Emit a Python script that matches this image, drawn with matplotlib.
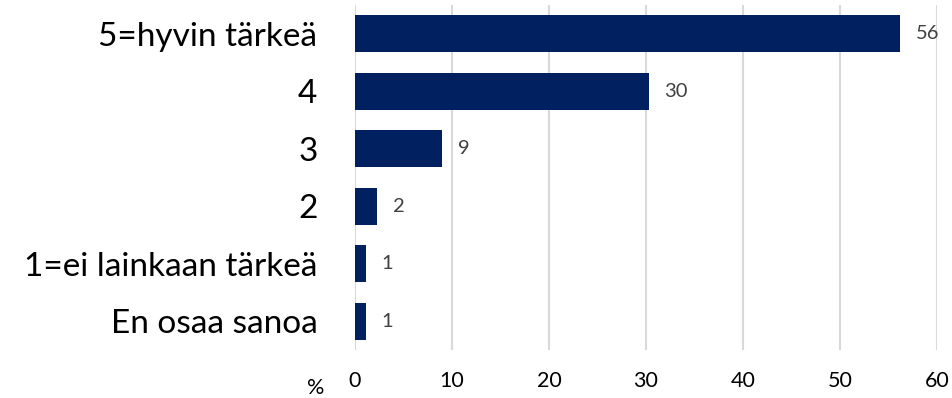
import matplotlib
matplotlib.use("Agg")
import matplotlib.pyplot as plt

categories = ["5=hyvin tärkeä", "4", "3", "2", "1=ei lainkaan tärkeä", "En osaa sanoa"]
values = [56.2, 30.3, 9.0, 2.3, 1.1, 1.1]
value_labels = ["56", "30", "9", "2", "1", "1"]
xticks = [0, 10, 20, 30, 40, 50, 60]

plt.rcParams['font.family'] = ['Lato', 'DejaVu Sans']

fig = plt.figure(figsize=(9.53, 3.98), dpi=100)
ax = fig.add_axes([355/953, 1 - 350/398, (937-355)/953, 345/398])

y = list(range(len(categories)))
ax.barh(y, values, height=0.65, color="#002060", zorder=3)
ax.set_ylim(len(categories) - 0.5, -0.5)
ax.set_xlim(0, 60)
ax.set_xticks(xticks)
ax.set_xticklabels([str(t) for t in xticks], fontsize=15.5, color="#000000")
ax.set_yticks(y)
ax.set_yticklabels(categories, fontsize=24, color="#000000")
ax.tick_params(axis='both', length=0)
ax.tick_params(axis='x', pad=15)
ax.tick_params(axis='y', pad=27)
for s in ax.spines.values():
    s.set_visible(False)
ax.grid(axis='x', color="#d9d9d9", linewidth=1.5, zorder=0)

for yi, v, lab in zip(y, values, value_labels):
    ax.annotate(lab, (v, yi), xytext=(11, 0), textcoords='offset points',
                ha='left', va='center', fontsize=14.5, color="#404040")

fig.text(316/953, 1 - 388/398, "%", fontsize=15.5, ha='center', va='center')

fig.savefig("out.png", dpi=100)
